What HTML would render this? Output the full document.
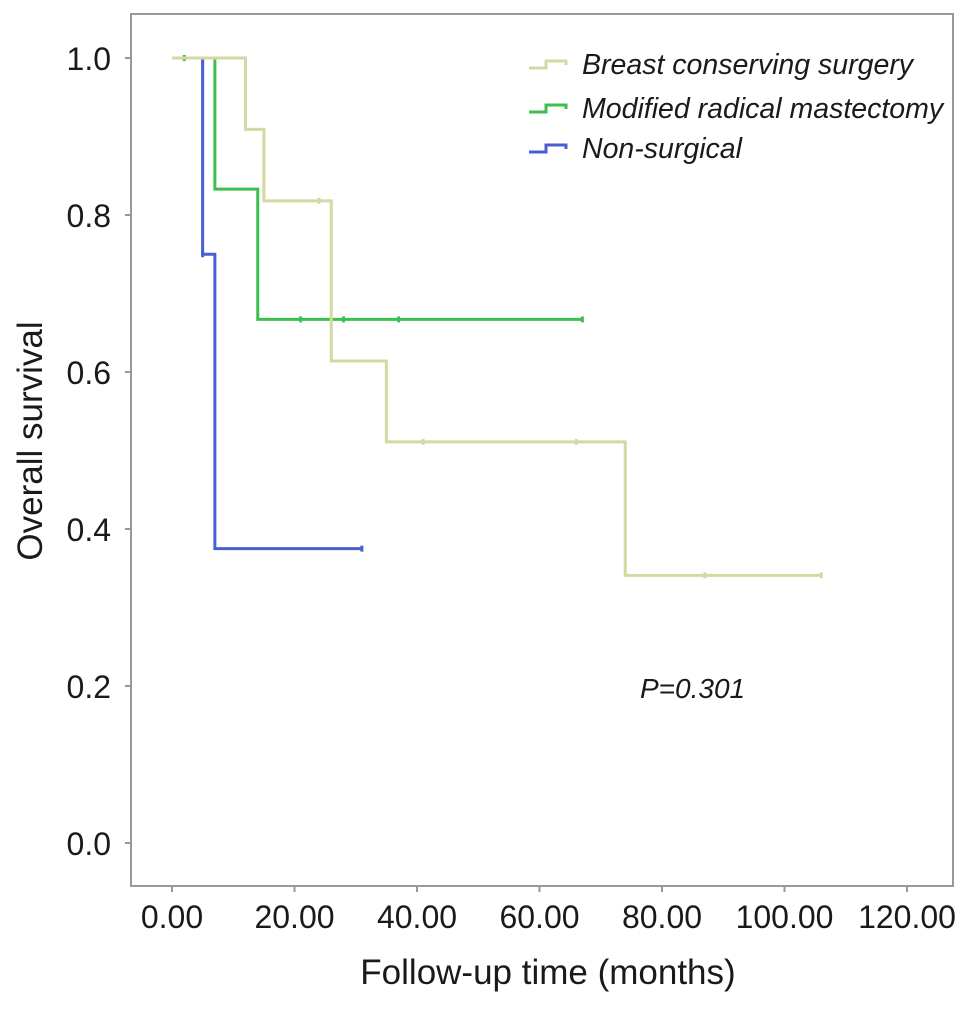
<!DOCTYPE html>
<html><head><meta charset="utf-8"><style>
body{margin:0;background:#fff;}
svg text{font-family:"Liberation Sans",sans-serif;fill:#1a1a1a;}
</style></head><body>
<svg id="chart" width="969" height="1004" viewBox="0 0 969 1004">
<rect x="131" y="14" width="822" height="872" fill="none" stroke="#999" stroke-width="2"/>
<g id="axes"></g><g id="series"></g>
<text x="548" y="984" font-size="35" text-anchor="middle">Follow-up time (months)</text>
<text transform="translate(42,441) rotate(-90)" font-size="35" text-anchor="middle">Overall survival</text>
<text x="640" y="698" font-size="28" font-style="italic">P=0.301</text>
<g id="legend"></g>
</svg>
<script>
const xTicks=[0,20,40,60,80,100,120];
const xTickLabels=["0.00","20.00","40.00","60.00","80.00","100.00","120.00"];
const yTicks=[0,0.2,0.4,0.6,0.8,1.0];
const yTickLabels=["0.0","0.2","0.4","0.6","0.8","1.0"];
const seriesNames=["Breast conserving surgery","Modified radical mastectomy","Non-surgical"];
const bcsTimes=[0,12,15,26,35,74,106];
const bcsSurv=[1.0,0.909,0.818,0.614,0.511,0.341,0.341];
const bcsCensor=[24,41,66,87,106];
const mrmTimes=[0,7,14,67];
const mrmSurv=[1.0,0.833,0.667,0.667];
const mrmCensor=[2,21,28,37,67];
const nsTimes=[0,5,7,31];
const nsSurv=[1.0,0.75,0.375,0.375];
const nsCensor=[5,31];
const colors=["#d4d9a4","#3cbf4e","#4a5ed0"];
const X=v=>172+v*(907-172)/120;
const Y=v=>843-v*(843-58);
const NS="http://www.w3.org/2000/svg";
function mk(t,a,p){const e=document.createElementNS(NS,t);for(const k in a)e.setAttribute(k,a[k]);p.appendChild(e);return e;}
const ax=document.getElementById('axes');
xTicks.forEach((t,i)=>{
 const l=mk('line',{x1:X(t),x2:X(t),y1:886,y2:892,stroke:'#999','stroke-width':2},ax);
 
 
 const tx=mk('text',{x:X(t),y:928,'font-size':32,'text-anchor':'middle'},ax);tx.textContent=xTickLabels[i];
 
 
});
yTicks.forEach((t,i)=>{
 const l=mk('line',{x1:125,x2:131,y1:Y(t),y2:Y(t),stroke:'#999','stroke-width':2},ax);
 
 
 const tx=mk('text',{x:111,y:Y(t)+12,'font-size':32,'text-anchor':'end'},ax);tx.textContent=yTickLabels[i];
 
 
});
const sg=document.getElementById('series');
function km(times,surv,cens,col,name){
 let d='M'+X(times[0])+','+Y(surv[0]);
 for(let i=1;i<times.length;i++){d+=' H'+X(times[i])+' V'+Y(surv[i]);}
 const p=mk('path',{d:d,fill:'none',stroke:col,'stroke-width':3},sg);
 
 
 cens.forEach(c=>{
  let s=surv[0];for(let i=0;i<times.length;i++){if(times[i]<=c)s=surv[i];}
  const m=mk('line',{x1:X(c),x2:X(c),y1:Y(s)-3,y2:Y(s)+3,stroke:col,'stroke-width':3},sg);
  
  
 });
}
km(nsTimes,nsSurv,nsCensor,colors[2],'non-surgical');
km(mrmTimes,mrmSurv,mrmCensor,colors[1],'mrm');
km(bcsTimes,bcsSurv,bcsCensor,colors[0],'bcs');
const lg=document.getElementById('legend');
const ly=[64,108,148];
seriesNames.forEach((n,i)=>{
 const y=ly[i];
 const ic=mk('path',{d:`M529,${y+4} H546 V${y-3} H566 V${y+1}`,fill:'none',stroke:colors[i],'stroke-width':3},lg);
 
 
 const t=mk('text',{x:582,y:y+10,'font-size':28.5,'font-style':'italic'},lg);t.textContent=n;
 
 
});
</script>
</body></html>
